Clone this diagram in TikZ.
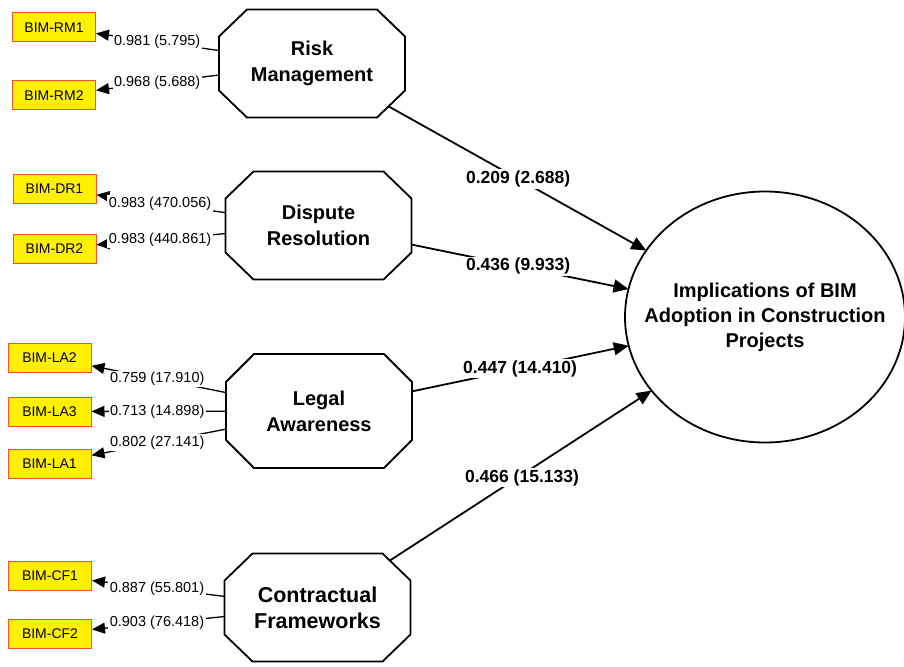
\documentclass[tikz,border=0pt]{standalone}
\usepackage{fontspec}
\setmainfont{Liberation Sans}
\usetikzlibrary{arrows.meta,shapes.geometric,calc}
\definecolor{indfill}{RGB}{255,240,0}
\definecolor{indline}{RGB}{245,80,40}

% Octagon with independent horizontal and vertical corner cuts
\makeatletter
\pgfkeys{/pgf/octbox cut x/.initial=28pt, /pgf/octbox cut y/.initial=27pt}
\pgfdeclareshape{octbox}{%
  \inheritsavedanchors[from=rectangle]%
  \inheritanchor[from=rectangle]{center}%
  \inheritanchor[from=rectangle]{north}%
  \inheritanchor[from=rectangle]{south}%
  \inheritanchor[from=rectangle]{east}%
  \inheritanchor[from=rectangle]{west}%
  \inheritanchor[from=rectangle]{text}%
  \inheritanchor[from=rectangle]{base}%
  \saveddimen\octcx{\pgfmathsetlength\pgf@x{\pgfkeysvalueof{/pgf/octbox cut x}}}%
  \saveddimen\octcy{\pgfmathsetlength\pgf@x{\pgfkeysvalueof{/pgf/octbox cut y}}}%
  \backgroundpath{%
    \southwest \edef\oct@Lx{\the\pgf@x}\edef\oct@Ly{\the\pgf@y}%
    \northeast \edef\oct@Rx{\the\pgf@x}\edef\oct@Ry{\the\pgf@y}%
    \pgf@xa=\oct@Lx \advance\pgf@xa by \octcx \edef\oct@La{\the\pgf@xa}%
    \pgf@xa=\oct@Rx \advance\pgf@xa by -\octcx \edef\oct@Ra{\the\pgf@xa}%
    \pgf@ya=\oct@Ly \advance\pgf@ya by \octcy \edef\oct@Ba{\the\pgf@ya}%
    \pgf@ya=\oct@Ry \advance\pgf@ya by -\octcy \edef\oct@Ta{\the\pgf@ya}%
    \pgfpathmoveto{\pgfqpoint{\oct@La}{\oct@Ry}}%
    \pgfpathlineto{\pgfqpoint{\oct@Ra}{\oct@Ry}}%
    \pgfpathlineto{\pgfqpoint{\oct@Rx}{\oct@Ta}}%
    \pgfpathlineto{\pgfqpoint{\oct@Rx}{\oct@Ba}}%
    \pgfpathlineto{\pgfqpoint{\oct@Ra}{\oct@Ly}}%
    \pgfpathlineto{\pgfqpoint{\oct@La}{\oct@Ly}}%
    \pgfpathlineto{\pgfqpoint{\oct@Lx}{\oct@Ba}}%
    \pgfpathlineto{\pgfqpoint{\oct@Lx}{\oct@Ta}}%
    \pgfpathclose
  }%
  \anchorborder{%
    \edef\oct@dx{\the\pgf@x}\edef\oct@dy{\the\pgf@y}%
    \southwest \edef\oct@Lx{\the\pgf@x}\edef\oct@Ly{\the\pgf@y}%
    \northeast \edef\oct@Rx{\the\pgf@x}\edef\oct@Ry{\the\pgf@y}%
    \pgfmathsetmacro\oct@hw{(\oct@Rx-\oct@Lx)/2}%
    \pgfmathsetmacro\oct@hh{(\oct@Ry-\oct@Ly)/2}%
    \pgfmathsetmacro\oct@mx{(\oct@Rx+\oct@Lx)/2}%
    \pgfmathsetmacro\oct@my{(\oct@Ry+\oct@Ly)/2}%
    \pgfmathsetmacro\oct@ang{atan2(\oct@dy,\oct@dx)}%
    \pgfmathsetmacro\oct@c{abs(cos(\oct@ang))}%
    \pgfmathsetmacro\oct@s{abs(sin(\oct@ang))}%
    \pgfmathsetmacro\oct@sa{\oct@hw/max(\oct@c,0.01)}%
    \pgfmathsetmacro\oct@sb{\oct@hh/max(\oct@s,0.01)}%
    \pgfmathsetmacro\oct@sc{(\octcy*\oct@hw-\octcy*\octcx+\octcx*\oct@hh)/max(\octcy*\oct@c+\octcx*\oct@s,0.01)}%
    \pgfmathsetmacro\oct@r{min(\oct@sa,\oct@sb,\oct@sc)}%
    \pgfmathsetmacro\oct@px{\oct@mx+\oct@r*cos(\oct@ang)}%
    \pgfmathsetmacro\oct@py{\oct@my+\oct@r*sin(\oct@ang)}%
    \pgf@x=\oct@px pt\relax
    \pgf@y=\oct@py pt\relax
  }%
}
\makeatother

\begin{document}
\begin{tikzpicture}[x=1pt,y=-1pt,
  construct/.style={octbox, /pgf/octbox cut x=28pt, /pgf/octbox cut y=27pt,
    draw, line width=1.8pt, inner sep=0pt, outer sep=0pt,
    minimum width=186pt, minimum height=108pt, align=center,
    font=\fontsize{20}{26}\selectfont\bfseries},
  indicator/.style={rectangle, draw=indline, fill=indfill, line width=1pt,
    minimum width=83pt, minimum height=29pt, inner sep=0pt,
    font=\fontsize{14}{16}\selectfont},
  target/.style={ellipse, draw, line width=1.8pt, minimum width=280pt,
    minimum height=251pt, inner sep=0pt, outer sep=0pt},
  ytext/.style={align=center, inner sep=0pt,
    font=\fontsize{20}{25}\selectfont\bfseries},
  load/.style={line width=1.3pt, -{Triangle[length=13pt,width=11pt]}},
  struct/.style={line width=1.8pt, -{Triangle[length=15pt,width=13pt]}},
  lval/.style={fill=white, inner sep=1.5pt, font=\fontsize{14.5}{16}\selectfont},
  pval/.style={fill=white, inner sep=1.5pt, font=\fontsize{17.5}{20}\selectfont\bfseries},
]
\useasboundingbox[fill=white] (0,0) rectangle (904,666);

% latent constructs
\node[construct] (RM) at (312,63.5) {Risk\\Management};
\node[construct] (DR) at (318.5,225.5) {Dispute\\Resolution};
\node[construct, minimum height=114pt, /pgf/octbox cut y=28pt] (LA) at (319,411) {Legal\\Awareness};
\node[construct, font=\fontsize{21.5}{26}\selectfont\bfseries] (CF) at (317.5,607.5) {Contractual\\Frameworks};
\node[target, label={[ytext]center:Implications of BIM\\Adoption in Construction\\Projects}] (Y) at (765,317) {};

% indicators
\node[indicator] (RM1) at (54,27.5) {BIM-RM1};
\node[indicator] (RM2) at (54,95.5) {BIM-RM2};
\node[indicator] (DR1) at (54.5,189) {BIM-DR1};
\node[indicator] (DR2) at (54.5,248.5) {BIM-DR2};
\node[indicator] (LA2) at (49.5,357.5) {BIM-LA2};
\node[indicator] (LA3) at (49.5,411.5) {BIM-LA3};
\node[indicator] (LA1) at (49.5,463.5) {BIM-LA1};
\node[indicator] (CF1) at (50,575.5) {BIM-CF1};
\node[indicator] (CF2) at (50,633.5) {BIM-CF2};

% outer loadings
\draw[load] (RM) -- (RM1);
\draw[load] (RM) -- (RM2);
\draw[load] (DR) -- (DR1);
\draw[load] (DR) -- (DR2);
\draw[load] (LA) -- (LA2);
\draw[load] (LA) -- (LA3);
\draw[load] (LA) -- (LA1);
\draw[load] (CF) -- (CF1);
\draw[load] (CF) -- (CF2);

\node[lval] (vRM1) at ($(RM)!0.6!(RM1)$) {0.981 (5.795)};
\node[lval] (vRM2) at ($(RM)!0.6!(RM2)$) {0.968 (5.688)};
\node[lval] (vDR1) at ($(DR)!0.6!(DR1)$) {0.983 (470.056)};
\node[lval] (vDR2) at ($(DR)!0.6!(DR2)$) {0.983 (440.861)};
\node[lval] (vLA2) at ($(LA)!0.6!(LA2)$) {0.759 (17.910)};
\node[lval] (vLA3) at ($(LA)!0.6!(LA3)$) {0.713 (14.898)};
\node[lval] (vLA1) at ($(LA)!0.6!(LA1)$) {0.802 (27.141)};
\node[lval] (vCF1) at ($(CF)!0.6!(CF1)$) {0.887 (55.801)};
\node[lval] (vCF2) at ($(CF)!0.6!(CF2)$) {0.903 (76.418)};

% structural paths
\draw[struct] (RM) -- (Y);
\draw[struct] (DR) -- (Y);
\draw[struct] (LA) -- (Y);
\draw[struct] (CF) -- (Y);

\node[pval] (pRM) at ($(RM)!0.455!(Y)$) {0.209 (2.688)};
\node[pval] (pDR) at ($(DR)!0.447!(Y)$) {0.436 (9.933)};
\node[pval] (pLA) at ($(LA)!0.451!(Y)$) {0.447 (14.410)};
\node[pval] (pCF) at ($(CF)!0.457!(Y)+(0,3)$) {0.466 (15.133)};
\end{tikzpicture}
\end{document}
